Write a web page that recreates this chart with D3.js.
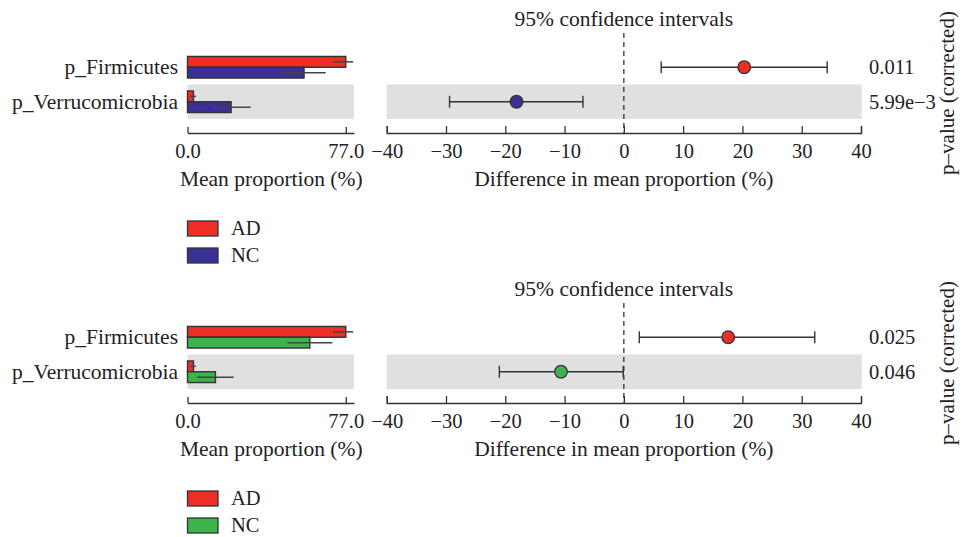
<!DOCTYPE html>
<html>
<head>
<meta charset="utf-8">
<script src="https://cdn.jsdelivr.net/npm/d3@7/dist/d3.min.js"></script>
<style>
  html, body { margin: 0; padding: 0; background: #fff; }
  svg text { font-family: "Liberation Serif", "Times New Roman", serif; fill: #222; }
</style>
</head>
<body>
<svg id="chart" width="968" height="537"></svg>
<script>
// ---- data ----
const taxa = ["p_Firmicutes", "p_Verrucomicrobia"];
const groups = ["AD", "NC"];
const barTicks = [0, 77];
const diffTicks = [-40, -30, -20, -10, 0, 10, 20, 30, 40];

// panel 1 (AD vs NC, blue)
const ad1Mean = [77.0, 2.9];
const ad1Lo = [70.8, 1.3];
const ad1Hi = [80.6, 4.1];
const nc1Mean = [56.7, 21.2];
const nc1Lo = [46.2, 11.9];
const nc1Hi = [67.2, 30.7];
const diff1 = [20.3, -18.1];
const ci1Lo = [6.3, -29.4];
const ci1Hi = [34.3, -6.9];
const p1 = ["0.011", "5.99e\u22123"];

// panel 2 (AD vs NC, green)
const ad2Mean = [77.0, 2.9];
const ad2Lo = [70.8, 1.3];
const ad2Hi = [80.6, 4.1];
const nc2Mean = [59.5, 13.6];
const nc2Lo = [48.6, 4.6];
const nc2Hi = [70.5, 22.5];
const diff2 = [17.6, -10.6];
const ci2Lo = [2.6, -21.0];
const ci2Hi = [32.2, -0.1];
const p2 = ["0.025", "0.046"];

const RED = "#ee2d26";
const BLUE = "#3a3194";
const GREEN = "#3cb44b";
const GRAY = "#e0e0e0";
const STROKE = "#333";

const svg = d3.select("#chart");

const xBar = d3.scaleLinear().domain([0, 81]).range([187.5, 354]);
const xDiff = d3.scaleLinear().domain([-40, 40]).range([386.7, 861]);
const yBand = d3.scaleBand().domain(taxa).range([50, 119]).paddingInner(0);

function drawPanel(offsetY, ad, nc, ncColor, diff, ciLo, ciHi, pv) {
  const g = svg.append("g").attr("transform", `translate(0,${offsetY})`);
  const bw = yBand.bandwidth();
  const barH = 10.8;

  // alternating gray background rows
  taxa.forEach((t, i) => {
    if (i % 2 === 1) {
      g.append("rect").attr("x", xBar(0)).attr("width", xBar.range()[1] - xBar(0))
        .attr("y", yBand(t)).attr("height", bw).attr("fill", GRAY);
      g.append("rect").attr("x", xDiff.range()[0]).attr("width", xDiff.range()[1] - xDiff.range()[0] + 0.7)
        .attr("y", yBand(t)).attr("height", bw).attr("fill", GRAY);
    }
  });

  // taxa labels
  g.selectAll("text.taxon").data(taxa).join("text")
    .attr("class", "taxon")
    .attr("x", 178).attr("y", d => yBand(d) + bw / 2)
    .attr("text-anchor", "end").attr("dominant-baseline", "central")
    .attr("font-size", 21.5).text(d => d);

  // bars
  const series = [
    { mean: ad.mean, lo: ad.lo, hi: ad.hi, color: RED, off: -barH },
    { mean: nc.mean, lo: nc.lo, hi: nc.hi, color: ncColor, off: 0 }
  ];
  series.forEach(s => {
    taxa.forEach((t, i) => {
      const cy = yBand(t) + bw / 2;
      g.append("rect")
        .attr("x", xBar(0)).attr("y", cy + s.off)
        .attr("width", xBar(s.mean[i]) - xBar(0)).attr("height", barH)
        .attr("fill", s.color).attr("stroke", STROKE).attr("stroke-width", 1.4);
    });
  });
  series.forEach(s => {
    taxa.forEach((t, i) => {
      const cy = yBand(t) + bw / 2 + s.off + barH / 2;
      g.append("line")
        .attr("x1", xBar(s.lo[i])).attr("x2", xBar(s.hi[i]))
        .attr("y1", cy).attr("y2", cy)
        .attr("stroke", "#444").attr("stroke-width", 1.5);
    });
  });

  // bar axis
  const barAxis = d3.axisBottom(xBar).tickValues(barTicks)
    .tickFormat(d3.format(".1f")).tickSizeInner(-6).tickSizeOuter(0).tickPadding(10);
  const ba = g.append("g").attr("transform", "translate(0,133)").call(barAxis);
  ba.selectAll("path, line").attr("stroke", STROKE).attr("stroke-width", 1.3);
  ba.selectAll("text").attr("font-size", 20.5).attr("font-family", '"Liberation Serif", serif').attr("fill", "#222");

  g.append("text").attr("x", (xBar(0) + xBar(81)) / 2 + 0.5).attr("y", 186)
    .attr("text-anchor", "middle").attr("font-size", 21.5).text("Mean proportion (%)");

  // diff axis
  const diffAxis = d3.axisBottom(xDiff).tickValues(diffTicks)
    .tickSizeInner(-7).tickSizeOuter(-7).tickPadding(10);
  const da = g.append("g").attr("transform", "translate(0,133)").call(diffAxis);
  da.selectAll("path, line").attr("stroke", STROKE).attr("stroke-width", 1.3);
  da.selectAll("text").attr("font-size", 20.5).attr("font-family", '"Liberation Serif", serif').attr("fill", "#222");

  g.append("text").attr("x", xDiff(0)).attr("y", 186)
    .attr("text-anchor", "middle").attr("font-size", 21.5).text("Difference in mean proportion (%)");

  g.append("text").attr("x", xDiff(0)).attr("y", 26)
    .attr("text-anchor", "middle").attr("font-size", 21.5).text("95% confidence intervals");

  // dashed zero line
  g.append("line").attr("x1", xDiff(0)).attr("x2", xDiff(0))
    .attr("y1", 33).attr("y2", 133)
    .attr("stroke", STROKE).attr("stroke-width", 1.3).attr("stroke-dasharray", "5,4");

  // CI lines and points
  taxa.forEach((t, i) => {
    const cy = yBand(t) + bw / 2;
    const col = diff[i] > 0 ? RED : ncColor;
    g.append("line").attr("x1", xDiff(ciLo[i])).attr("x2", xDiff(ciHi[i]))
      .attr("y1", cy).attr("y2", cy).attr("stroke", STROKE).attr("stroke-width", 1.4);
    [ciLo[i], ciHi[i]].forEach(v => {
      g.append("line").attr("x1", xDiff(v)).attr("x2", xDiff(v))
        .attr("y1", cy - 6).attr("y2", cy + 6).attr("stroke", STROKE).attr("stroke-width", 1.4);
    });
    g.append("circle").attr("cx", xDiff(diff[i])).attr("cy", cy).attr("r", 6.3)
      .attr("fill", col).attr("stroke", STROKE).attr("stroke-width", 1.3);
    g.append("text").attr("x", 869).attr("y", cy)
      .attr("dominant-baseline", "central").attr("font-size", 20.5).text(pv[i]);
  });

  // right label
  g.append("text").attr("transform", "translate(954,93) rotate(-90)")
    .attr("text-anchor", "middle").attr("font-size", 21).text("p\u2013value (corrected)");

  // legend
  const legColors = [RED, ncColor];
  groups.forEach((gr, i) => {
    g.append("rect").attr("x", 187.5).attr("y", 221 + i * 27).attr("width", 30.5).attr("height", 15)
      .attr("fill", legColors[i]).attr("stroke", STROKE).attr("stroke-width", 1.3);
    g.append("text").attr("x", 231).attr("y", 235 + i * 27)
      .attr("font-size", 20.5).text(gr);
  });
}

drawPanel(0,
  { mean: ad1Mean, lo: ad1Lo, hi: ad1Hi },
  { mean: nc1Mean, lo: nc1Lo, hi: nc1Hi },
  BLUE, diff1, ci1Lo, ci1Hi, p1);

drawPanel(270,
  { mean: ad2Mean, lo: ad2Lo, hi: ad2Hi },
  { mean: nc2Mean, lo: nc2Lo, hi: nc2Hi },
  GREEN, diff2, ci2Lo, ci2Hi, p2);
</script>
</body>
</html>
